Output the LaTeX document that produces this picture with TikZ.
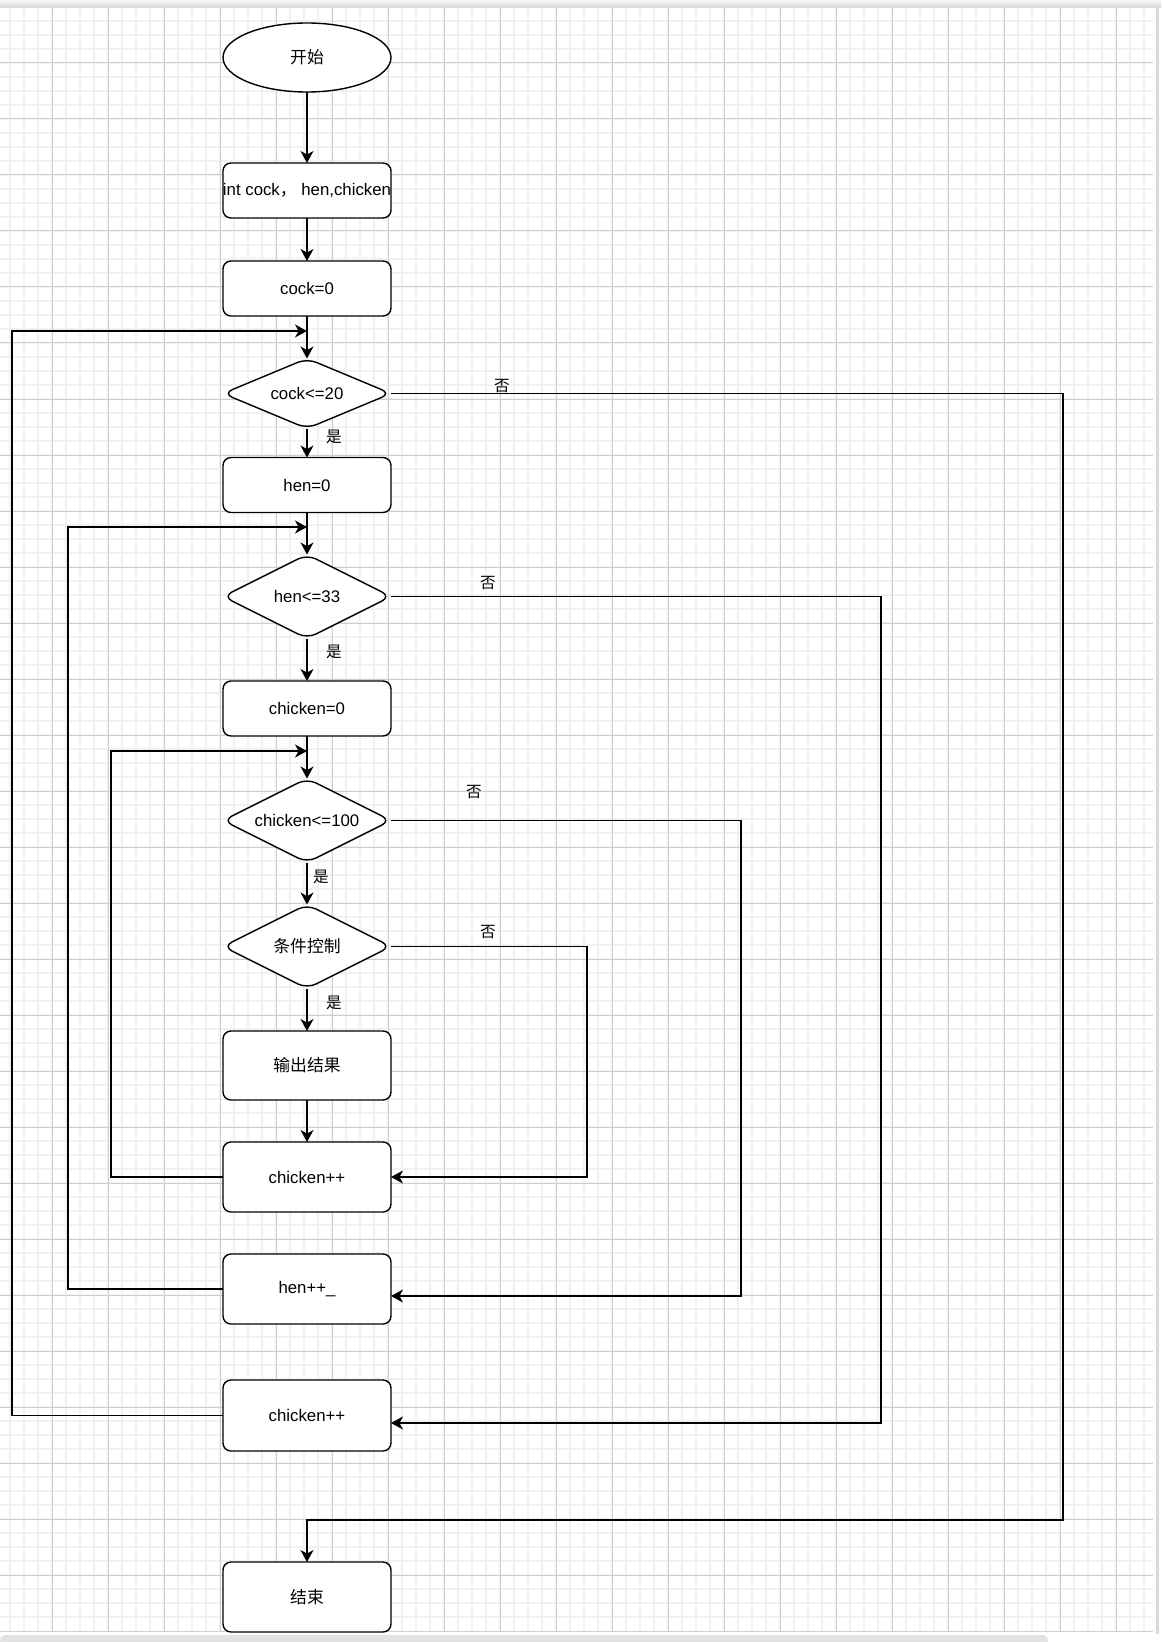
\documentclass[tikz,border=0pt]{standalone}
\usepackage{fontspec}
\setmainfont{Liberation Sans}
\newfontfamily\cjk{Noto Sans CJK SC}
\usetikzlibrary{shapes.geometric,arrows.meta}

\definecolor{gridminor}{HTML}{F1F1F1}
\definecolor{gridmajor}{HTML}{CFCFCF}
\definecolor{barcol}{HTML}{E2E2E2}

\tikzset{
  box/.style={draw, line width=.7pt, rounded corners=4pt, fill=white,
              minimum width=84pt, minimum height=27.5pt, inner sep=0pt, outer sep=0pt,
              font=\fontsize{8.4pt}{10pt}\selectfont},
  term/.style={draw, line width=.7pt, ellipse, fill=white,
               minimum width=84pt, minimum height=34.5pt, inner sep=0pt, outer sep=0pt,
               font=\fontsize{8.4pt}{10pt}\selectfont},
  test/.style={draw, line width=.7pt, diamond, aspect=3, rounded corners=5pt, fill=white,
               minimum width=84pt, minimum height=42pt, inner sep=0pt, outer sep=0pt,
               font=\fontsize{8.4pt}{10pt}\selectfont},
  lbl/.style={inner sep=0pt, font=\fontsize{7.8pt}{9pt}\selectfont\cjk},
  arr/.style={line width=.7pt, -{Stealth[length=6pt,width=6.5pt,inset=1.8pt]}},
  wire/.style={line width=.7pt},
  minor/.style={gridminor, line width=1pt},
  major/.style={gridmajor, line width=.5pt}
}

\begin{document}
\begin{tikzpicture}[x=.5pt, y=-.5pt]
            \useasboundingbox (0,0) rectangle (1161,1642);
            \fill[white] (0,0) rectangle (1161,1642);

            % grid
            \foreach \gx in {10,24,...,1150}
              \draw[minor] (\gx,8) -- (\gx,1631);
            \foreach \gy in {21,35,...,1620}
              \draw[minor] (0,\gy) -- (1153,\gy);
            \foreach \gx in {52,108,...,1150}
              \draw[major] (\gx,8) -- (\gx,1631);
            \foreach \gy in {63,119,...,1632}
              \draw[major] (0,\gy) -- (1153,\gy);

            % window frame
            \shade[top color=black!4, bottom color=black!16] (0,0) rectangle (1161,8);
            \draw[black!15, line width=1.5pt] (1157,8) -- (1157,1634);
            \fill[barcol, rounded corners=3pt] (0,1635) rectangle (1048,1646);

            \node[term] (start) at (307,57.5) {\cjk 开始};
            \node[box] (decl) at (307,190.5) {int cock{\cjk ，} hen,chicken};
            \node[box] (c0) at (307,288.5) {cock=0};

            \node[test, minimum height=35pt] (dcock) at (307,393.5) {cock<=20};
            \node[box] (h0) at (307,485) {hen=0};

            \node[test] (dhen) at (307,596.5) {hen<=33};
            \node[box] (ch0) at (307,708.5) {chicken=0};

            \node[test] (dch) at (307,820.5) {chicken<=100};
            \node[test] (dcond) at (307,946.5) {\cjk 条件控制};

            \node[box, minimum height=34.5pt] (out) at (307,1065.5) {\cjk 输出结果};
            \node[box, minimum height=35pt] (chpp) at (307,1177) {chicken++};
            \node[box, minimum height=35pt] (henpp) at (307,1289) {hen++\_};
            \node[box, minimum height=35.5pt] (cockpp) at (307,1415.5) {chicken++};

            \node[box, minimum height=35pt] (end) at (307,1597) {\cjk 结束};

            \draw[arr] (start) -- (decl);
            \draw[arr] (decl) -- (c0);
            \draw[arr] (c0) -- (dcock);
            \draw[arr] (dcock) -- (h0);
            \draw[arr] (h0) -- (dhen);
            \draw[arr] (dhen) -- (ch0);
            \draw[arr] (ch0) -- (dch);
            \draw[arr] (dch) -- (dcond);
            \draw[arr] (dcond) -- (out);
            \draw[arr] (out) -- (chpp);

            % yes / no labels
            \node[lbl] (y1) at (334,437) {是};
            \node[lbl] (y2) at (334,652) {是};
            \node[lbl] (y3) at (321,877) {是};
            \node[lbl] (y4) at (334,1003) {是};
            \node[lbl] (n1) at (502,386) {否};
            \node[lbl] (n2) at (488,583) {否};
            \node[lbl] (n3) at (474,792) {否};
            \node[lbl] (n4) at (488,932) {否};

            % exits to the right
            \coordinate (k4) at (587,946.5);
            \coordinate (k3) at (741,820.5);
            \coordinate (k2) at (881,596.5);
            \coordinate (k1) at (1063,1520);
            \draw[arr] (dcond.east) -- (k4) |- (chpp.east);
            \draw[arr] (dch.east) -- (k3) |- ([yshift=-3.5pt]henpp.east);
            \draw[arr] (dhen.east) -- (k2) |- ([yshift=-3.75pt]cockpp.east);
            \draw[arr] (dcock.east) -| (k1) -| (end.north);

            % loops back on the left
            \coordinate (j3) at (307,751);
            \coordinate (j2) at (307,527);
            \coordinate (j1) at (307,331);
            \coordinate (l3) at (111,751);
            \coordinate (l2) at (68,527);
            \coordinate (l1) at (12,331);
            \draw[arr] (chpp.west) -| (l3) -- (j3);
            \draw[arr] (henpp.west) -| (l2) -- (j2);
            \draw[arr] (cockpp.west) -| (l1) -- (j1);
          \end{tikzpicture}
\end{document}
